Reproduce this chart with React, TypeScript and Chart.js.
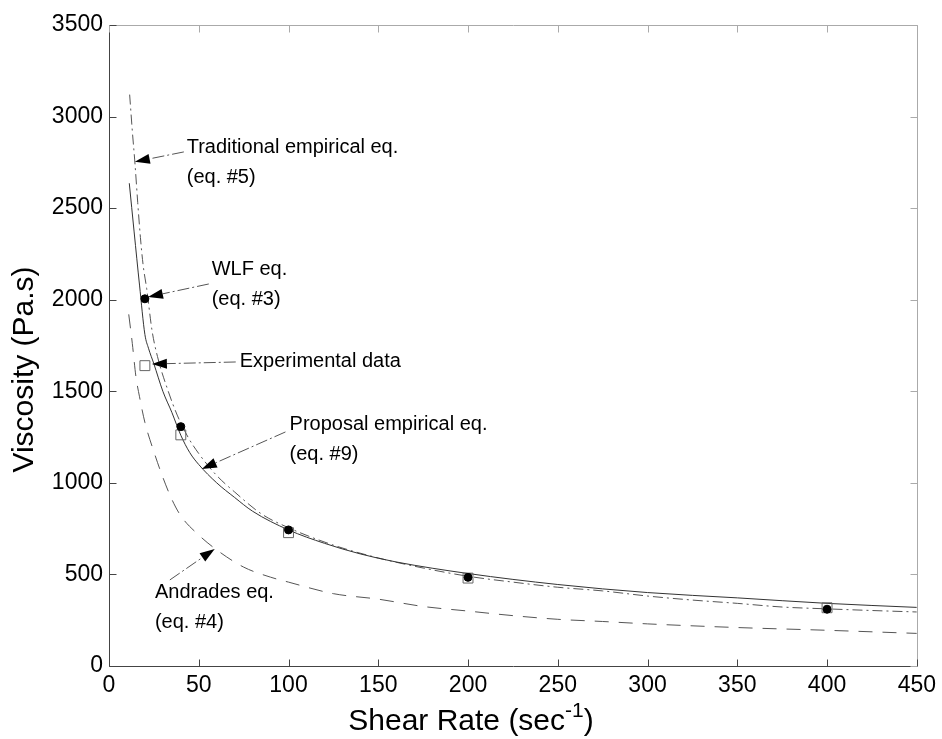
import React, { useEffect, useRef } from "react";
import { Chart, registerables } from "chart.js";
Chart.register(...registerables);

// Experimental data (squares)
const expX = [20, 40, 100, 200, 400];
const expY = [1640, 1262, 728, 480, 318];
// WLF eq. (#3) points (filled dots)
const wlfX = [20, 40, 100, 200, 400];
const wlfY = [2005, 1307, 743, 484, 310];
// Proposal empirical eq. (#9) – solid
const propX = [11.3, 14, 17, 20, 22, 25, 30, 35, 40, 45, 50, 60, 70, 80, 100, 120, 140, 160, 200, 250, 300, 350, 400, 450];
const propY = [2636, 2370, 2080, 1810, 1735, 1650, 1500, 1385, 1260, 1165, 1100, 1000, 920, 845, 743, 670, 612, 568, 505, 445, 401, 372, 342, 320];
// Traditional empirical eq. (#5) – dash-dot
const tradX = [11.5, 13, 14.5, 16, 17.5, 19, 21, 24, 27, 33, 38, 44, 50, 60, 70, 85, 100, 125, 150, 175, 200, 225, 250, 275, 300, 325, 350, 375, 400, 425, 450];
const tradY = [3120, 2920, 2740, 2530, 2340, 2190, 2060, 1830, 1690, 1500, 1370, 1250, 1160, 1040, 950, 830, 755, 660, 590, 535, 490, 458, 430, 410, 382, 360, 342, 322, 312, 303, 295];
// Andrades eq. (#4) – dashed
const andX = [11, 13, 15, 17, 20, 25, 30, 35, 40, 50, 60, 75, 90, 100, 125, 150, 175, 200, 225, 250, 275, 300, 350, 400, 450];
const andY = [1920, 1760, 1580, 1470, 1330, 1170, 1030, 910, 820, 715, 634, 540, 485, 458, 395, 365, 325, 300, 275, 255, 243, 230, 210, 195, 178];

const xTicks = [0, 50, 100, 150, 200, 250, 300, 350, 400, 450];
const yTicks = [0, 500, 1000, 1500, 2000, 2500, 3000, 3500];

// Annotation labels: text lines anchored at data coords, arrow from (ax,ay) to tip (tx,ty)
const notes = [
  { lines: ["Traditional empirical eq.", "(eq. #5)"], x: 43.3, y: 2829, ax: 41.7, ay: 2807, tx: 14.4, ty: 2753 },
  { lines: ["WLF eq.", "(eq. #3)"], x: 57.2, y: 2163, ax: 55.6, ay: 2086, tx: 21.7, ty: 2015 },
  { lines: ["Experimental data"], x: 72.8, y: 1660, ax: 70.6, ay: 1660, tx: 23.9, ty: 1649 },
  { lines: ["Proposal empirical eq.", "(eq. #9)"], x: 100.6, y: 1316, ax: 98.3, ay: 1278, tx: 51.7, ty: 1076 },
  { lines: ["Andrades eq.", "(eq. #4)"], x: 25.6, y: 399, ax: 33.9, ay: 470, tx: 58.9, ty: 639 },
];

const FONT = "'Liberation Sans', Arial, Helvetica, sans-serif";
const FS = 20; // annotation text
const TFS = 23; // tick labels
const AFS = 30; // axis titles

const pts = (xs: number[], ys: number[]) => xs.map((x, i) => ({ x, y: ys[i] }));

const framePlugin = {
  id: "frame",
  afterDatasetsDraw(chart: any) {
    const { ctx, chartArea: a, scales, width, height } = chart;
    const xs = scales.x, ys = scales.y;
    ctx.save();
    // annotations
    ctx.font = `${FS}px ${FONT}`;
    ctx.fillStyle = "#000";
    ctx.textBaseline = "middle";
    ctx.textAlign = "left";
    for (const n of notes) {
      const px = xs.getPixelForValue(n.x);
      const py = ys.getPixelForValue(n.y);
      n.lines.forEach((l, i) => ctx.fillText(l, px, py + i * 30));
      const ax = xs.getPixelForValue(n.ax), ay = ys.getPixelForValue(n.ay);
      const tx = xs.getPixelForValue(n.tx), ty = ys.getPixelForValue(n.ty);
      const ang = Math.atan2(ty - ay, tx - ax);
      const hl = 15, hw = 5;
      const bx = tx - hl * Math.cos(ang), by = ty - hl * Math.sin(ang);
      ctx.strokeStyle = "#555";
      ctx.lineWidth = 1;
      ctx.setLineDash([12, 3, 2, 3]);
      ctx.beginPath();
      ctx.moveTo(ax, ay);
      ctx.lineTo(bx, by);
      ctx.stroke();
      ctx.setLineDash([]);
      ctx.beginPath();
      ctx.moveTo(tx, ty);
      ctx.lineTo(bx + hw * Math.sin(ang), by - hw * Math.cos(ang));
      ctx.lineTo(bx - hw * Math.sin(ang), by + hw * Math.cos(ang));
      ctx.closePath();
      ctx.fill();
    }
    // box: left/bottom dark, top/right light
    const L = Math.round(a.left) + 0.5, R = Math.round(a.right) + 0.5;
    const T = Math.round(a.top) + 0.5, B = Math.round(a.bottom) + 0.5;
    ctx.lineWidth = 1;
    ctx.strokeStyle = "#aaa";
    ctx.beginPath();
    ctx.moveTo(L, T); ctx.lineTo(R, T); ctx.lineTo(R, B);
    ctx.stroke();
    ctx.strokeStyle = "#444";
    ctx.beginPath();
    ctx.moveTo(L, T); ctx.lineTo(L, B); ctx.lineTo(R, B);
    ctx.stroke();
    // inward ticks
    const tl = 7;
    ctx.strokeStyle = "#444";
    ctx.beginPath();
    for (const v of xTicks) {
      const p = Math.round(xs.getPixelForValue(v)) + 0.5;
      ctx.moveTo(p, B); ctx.lineTo(p, B - tl);
    }
    for (const v of yTicks) {
      const p = Math.round(ys.getPixelForValue(v)) + 0.5;
      ctx.moveTo(L, p); ctx.lineTo(L + tl, p);
    }
    ctx.stroke();
    ctx.strokeStyle = "#aaa";
    ctx.beginPath();
    for (const v of xTicks) {
      const p = Math.round(xs.getPixelForValue(v)) + 0.5;
      ctx.moveTo(p, T); ctx.lineTo(p, T + tl);
    }
    for (const v of yTicks) {
      const p = Math.round(ys.getPixelForValue(v)) + 0.5;
      ctx.moveTo(R, p); ctx.lineTo(R - tl, p);
    }
    ctx.stroke();
    // axis titles
    ctx.fillStyle = "#000";
    ctx.textBaseline = "alphabetic";
    const main = "Shear Rate (sec";
    const sup = "-1";
    const close = ")";
    const SFS = Math.round(AFS * 0.7);
    ctx.font = `${AFS}px ${FONT}`;
    const wMain = ctx.measureText(main).width;
    const wClose = ctx.measureText(close).width;
    ctx.font = `${SFS}px ${FONT}`;
    const wSup = ctx.measureText(sup).width;
    const total = wMain + wSup + wClose;
    const cx = width / 2;
    let sx = cx - total / 2;
    const base = 730;
    ctx.font = `${AFS}px ${FONT}`;
    ctx.textAlign = "left";
    ctx.fillText(main, sx, base);
    sx += wMain;
    ctx.font = `${SFS}px ${FONT}`;
    ctx.fillText(sup, sx, base - 13);
    sx += wSup;
    ctx.font = `${AFS}px ${FONT}`;
    ctx.fillText(close, sx, base);
    // y title
    ctx.save();
    ctx.translate(33, height / 2);
    ctx.rotate(-Math.PI / 2);
    ctx.textAlign = "center";
    ctx.fillText("Viscosity (Pa.s)", 0, 0);
    ctx.restore();
    ctx.restore();
  },
};

export default function App() {
  const ref = useRef<HTMLCanvasElement>(null);
  useEffect(() => {
    document.body.style.margin = "0";
    const lineBase = { showLine: true, pointRadius: 0, borderWidth: 1, fill: false, cubicInterpolationMode: "monotone" as const };
    const chart = new Chart(ref.current!, {
      type: "scatter",
      data: {
        datasets: [
          { label: "WLF eq. (eq. #3)", data: pts(wlfX, wlfY), pointRadius: 4, pointStyle: "circle", backgroundColor: "#000", borderColor: "#000", showLine: false },
          { label: "Experimental data", data: pts(expX, expY), pointRadius: 7, pointStyle: "rect", backgroundColor: "rgba(0,0,0,0)", borderColor: "#666", borderWidth: 1, showLine: false },
          { label: "Proposal empirical eq. (eq. #9)", data: pts(propX, propY), ...lineBase, borderColor: "#333" },
          { label: "Traditional empirical eq. (eq. #5)", data: pts(tradX, tradY), ...lineBase, borderColor: "#555", borderDash: [10, 4, 2, 4] },
          { label: "Andrades eq. (eq. #4)", data: pts(andX, andY), ...lineBase, borderColor: "#555", borderDash: [14, 10] },
        ],
      },
      options: {
        responsive: false,
        animation: false,
        layout: { padding: { top: 25, right: 23, left: 0, bottom: 0 } },
        plugins: { legend: { display: false }, tooltip: { enabled: false } },
        scales: {
          x: {
            type: "linear", min: 0, max: 450,
            afterBuildTicks: (s: any) => { s.ticks = xTicks.map((v) => ({ value: v })); },
            afterFit: (s: any) => { s.height = 73; },
            grid: { display: false, drawTicks: false },
            border: { display: false },
            ticks: { padding: 6, color: "#000", font: { family: FONT, size: TFS }, maxRotation: 0, callback: (v: any) => String(v) },
          },
          y: {
            type: "linear", min: 0, max: 3500,
            afterBuildTicks: (s: any) => { s.ticks = yTicks.map((v) => ({ value: v })); },
            afterFit: (s: any) => { s.width = 109; },
            grid: { display: false, drawTicks: false },
            border: { display: false },
            ticks: { padding: 6, color: "#000", font: { family: FONT, size: TFS }, callback: (v: any) => String(v) },
          },
        },
      },
      plugins: [framePlugin],
    });
    return () => chart.destroy();
  }, []);
  return (
    <div style={{ width: 942, height: 739 }}>
      <canvas ref={ref} width={942} height={739} style={{ display: "block" }} />
    </div>
  );
}
